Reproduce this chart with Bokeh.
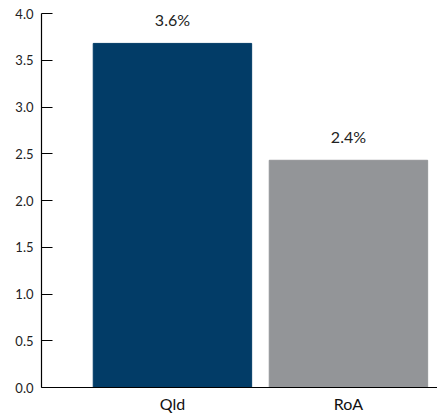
from bokeh.plotting import figure
from bokeh.models import Range1d, FixedTicker, ColumnDataSource
from bokeh.embed import file_html
from bokeh.resources import INLINE
from bokeh.core.properties import value

categories = ["Qld", "RoA"]
values = [3.68, 2.43]
bar_labels = ["3.6%", "2.4%"]
colors = ["#023c67", "#939598"]
y_ticks = [0.0, 0.5, 1.0, 1.5, 2.0, 2.5, 3.0, 3.5, 4.0]

xs = [i + 1 for i in range(len(categories))]
src = ColumnDataSource(dict(x=xs, top=values, label=bar_labels, color=colors))

p = figure(width=437, height=415, output_backend="svg", toolbar_location=None,
           x_range=Range1d(0.256, 2.506), y_range=Range1d(0, 4),
           min_border_left=41, min_border_right=0, min_border_top=13, min_border_bottom=28)
p.outline_line_color = None
p.grid.grid_line_color = None
p.background_fill_color = "white"
p.border_fill_color = "white"

p.vbar(x="x", top="top", width=0.9, bottom=0, color="color", source=src)
p.text(x="x", y="top", text="label", source=src, text_align="center",
       text_baseline="bottom", y_offset=-14, text_font=value("Lato"),
       text_font_size="16px", text_color="#222222")

p.xaxis.ticker = FixedTicker(ticks=xs)
p.xaxis.major_label_overrides = {x: c for x, c in zip(xs, categories)}
p.xaxis.major_tick_line_color = None
p.xaxis.major_tick_in = 0
p.xaxis.major_tick_out = 0
p.xaxis.minor_tick_line_color = None
p.xaxis.axis_line_color = "#000000"
p.xaxis.axis_line_width = 1.2
p.xaxis.major_label_text_font = "Lato"
p.xaxis.major_label_text_font_size = "16px"
p.xaxis.major_label_text_color = "#111111"
p.xaxis.major_label_standoff = 6

p.yaxis.ticker = FixedTicker(ticks=y_ticks)
p.yaxis.formatter.use_scientific = False
p.yaxis.major_label_overrides = {t: f"{t:.1f}" for t in y_ticks}
p.yaxis.major_tick_in = 11
p.yaxis.major_tick_out = 0
p.yaxis.minor_tick_line_color = None
p.yaxis.axis_line_color = "#000000"
p.yaxis.axis_line_width = 1.2
p.yaxis.major_tick_line_width = 1.2
p.yaxis.major_label_text_font = "Lato"
p.yaxis.major_label_text_font_size = "13px"
p.yaxis.major_label_text_color = "#222222"
p.yaxis.major_label_standoff = 8

open("out.html", "w").write(file_html(p, INLINE))
